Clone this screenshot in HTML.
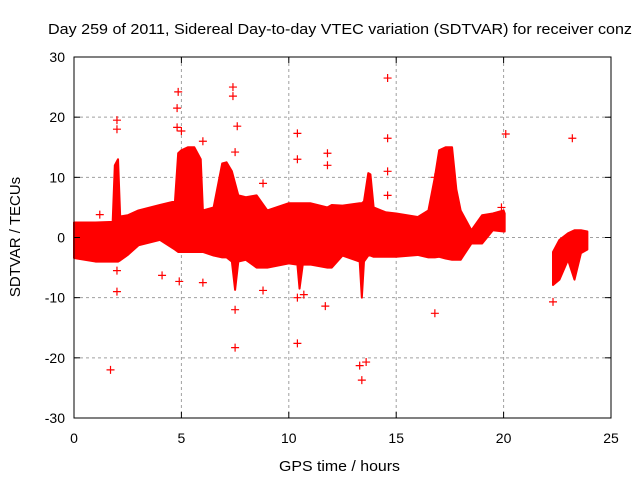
<!DOCTYPE html>
<html><head><meta charset="utf-8"><style>
html,body{margin:0;padding:0;background:#fff;}
svg text{font-family:"Liberation Sans",sans-serif;fill:#000;}
</style></head><body>
<svg id="chart" width="640" height="480" xmlns="http://www.w3.org/2000/svg">
<rect width="640" height="480" fill="#fff"/>
<text x="48" y="34" font-size="15" textLength="584" lengthAdjust="spacingAndGlyphs">Day 259 of 2011, Sidereal Day-to-day VTEC variation (SDTVAR) for receiver conz</text>
<text x="279" y="471" font-size="15" textLength="121" lengthAdjust="spacingAndGlyphs">GPS time / hours</text>
<text transform="translate(20,237) rotate(-90)" font-size="15" text-anchor="middle">SDTVAR / TECUs</text>
<g id="grid"></g>
<g id="band"></g>
<g id="pts"></g>
<rect x="74" y="57" width="537" height="361" fill="none" stroke="#000" stroke-width="1"/>
<g id="ticks"></g>
</svg>
<script>
const xTicks=[0,5,10,15,20,25];
const yTicks=[-30,-20,-10,0,10,20,30];
const band1Hours=[0,1,1.8,1.9,2.05,2.15,2.5,3,4,4.7,4.85,5.0,5.3,5.6,5.9,6.0,6.5,6.9,7.1,7.35,7.5,7.65,8,8.5,9,10,10.4,10.5,10.65,11,11.8,12,12.5,13.3,13.4,13.5,13.7,13.8,13.95,14.5,15,16,16.5,16.8,17,17.3,17.6,17.8,18,18.5,19,19.5,20,20.05];
const band1Upper=[2.5,2.5,2.6,12,13,3.5,3.7,4.5,5.4,6,14,14.5,15,15,13,4.5,5,12.3,12.5,11,9,7,6.7,7,4.5,5.7,5.7,5.7,5.7,5.7,5,5.4,5.3,5.7,5.7,6,10.7,10.5,5,4.2,4,3.4,4.5,10,14.5,15,15,8,4.5,1.2,3.7,4,4.5,4];
const band1Lower=[-3.4,-4,-4,-4,-4,-3.8,-2.9,-1.3,-0.4,-2,-2.4,-2.4,-2.4,-2.4,-2.4,-2.4,-3,-3.3,-3.3,-4,-8.7,-4,-3.7,-5,-5,-4.3,-4.5,-8.5,-4.5,-4.5,-5,-5,-3,-4,-10,-4,-3,-3,-3.2,-3.2,-3.2,-2.9,-3.3,-3.3,-3.2,-3.5,-3.7,-3.7,-3.7,-1,-1,1.2,1,1];
const band2Hours=[22.3,22.6,23,23.3,23.6,23.9];
const band2Upper=[-2.4,-0.4,0.7,1.2,1.2,1];
const band2Lower=[-7.9,-7,-3.7,-7,-2.6,-2];
const outHours=[2.0,2.0,1.7,2.0,2.0,4.1,4.8,4.85,4.9,4.8,5.0,6.0,6.0,7.4,7.4,7.6,7.5,7.5,7.5,8.8,8.8,10.4,10.4,10.4,10.4,10.7,11.8,11.8,11.7,13.3,13.4,13.6,14.6,14.6,14.6,14.6,16.8,16.8,20.1,22.3,23.2,19.9,1.2,8.3];
const outValues=[19.5,18,-22,-9,-5.5,-6.3,21.5,24.2,-7.3,18.3,17.7,16,-7.5,25,23.5,18.5,14.2,-12,-18.3,-8.8,9,17.3,13,-17.6,-10,-9.5,14,12,-11.4,-21.3,-23.7,-20.7,26.5,16.5,11,7,-12.6,10,17.2,-10.7,16.5,5,3.8,-1.5];
const X0=74,X1=611,Y0=418,Y1=57;
function xs(h){return X0+(h-0)/(25-0)*(X1-X0);}
function ys(v){return Y0-(v+30)/60*(Y0-Y1);}
const NS="http://www.w3.org/2000/svg";
function mk(tag,attrs,parent){const e=document.createElementNS(NS,tag);for(const k in attrs)e.setAttribute(k,attrs[k]);parent.appendChild(e);return e;}
const grid=document.getElementById('grid'),ticks=document.getElementById('ticks');
xTicks.forEach(t=>{
  if(t>0&&t<25){const l=mk('line',{x1:xs(t),x2:xs(t),y1:Y1,y2:Y0,stroke:'#a0a0a0','stroke-dasharray':'3,3'},grid);
  
  }
  const tk=mk('line',{x1:xs(t),x2:xs(t),y1:Y0,y2:Y0-6,stroke:'#000'},ticks);
  
  
  const tk2=mk('line',{x1:xs(t),x2:xs(t),y1:Y1,y2:Y1+6,stroke:'#000'},ticks);
  
  
  const tx=mk('text',{x:xs(t),y:443,'font-size':14,'text-anchor':'middle'},ticks);tx.textContent=t;
  
  
});
yTicks.forEach(t=>{
  if(t>-30&&t<30){const l=mk('line',{x1:X0,x2:X1,y1:ys(t),y2:ys(t),stroke:'#a0a0a0','stroke-dasharray':'3,3'},grid);
  
  }
  const tk=mk('line',{x1:X0,x2:X0+6,y1:ys(t),y2:ys(t),stroke:'#000'},ticks);
  
  
  const tk2=mk('line',{x1:X1,x2:X1-6,y1:ys(t),y2:ys(t),stroke:'#000'},ticks);
  
  
  const tx=mk('text',{x:X0-9,y:ys(t)+5,'font-size':14,'text-anchor':'end'},ticks);tx.textContent=t;
  
  
});
const band=document.getElementById('band');
function drawBand(H,U,L,name){
  let d='M'+H.map((h,i)=>xs(h)+','+ys(U[i])).join(' L');
  for(let i=H.length-1;i>=0;i--)d+=' L'+xs(H[i])+','+ys(L[i]);
  d+=' Z';
  const p=mk('path',{d:d,fill:'#ff0000',stroke:'#ff0000','stroke-width':2,'stroke-linejoin':'round'},band);
  
  
}
drawBand(band1Hours,band1Upper,band1Lower,'data-band-main');
drawBand(band2Hours,band2Upper,band2Lower,'data-band-late');
const pts=document.getElementById('pts');
outHours.forEach((h,i)=>{
  const x=xs(h),y=ys(outValues[i]);
  const p=mk('path',{d:`M${x-4},${y}H${x+4}M${x},${y-4}V${y+4}`,stroke:'#ff0000','stroke-width':1.2},pts);
  
  
});
</script>
</body></html>
